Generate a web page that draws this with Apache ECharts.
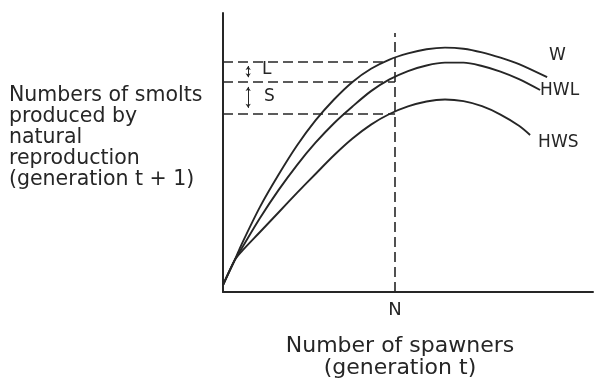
<!DOCTYPE html>
<html>
<head>
<meta charset="utf-8">
<script src="https://cdn.jsdelivr.net/npm/echarts@6/dist/echarts.min.js"></script>
<style>
  html, body { margin: 0; padding: 0; background: #fff; }
  #chart { width: 595px; height: 380px; }
</style>
</head>
<body>
<div id="chart"></div>
<script>
  // schematic curves, arbitrary units 0-100 on both axes
  const wX = [0, 3.2, 5, 10, 15, 20, 25, 30, 35, 40, 45, 50, 55, 60, 65, 70, 75, 80, 87.6];
  const wY = [2.5, 11.5, 17, 30.5, 42, 52.5, 61.5, 69, 75.3, 80, 83.3, 85.5, 87, 87.6, 87.2, 85.9, 84, 81.7, 77];
  const hwlX = [0, 3.2, 5, 10, 15, 20, 25, 30, 35, 40, 45, 50, 55, 60, 65, 70, 75, 80, 85.7];
  const hwlY = [2.5, 11.5, 15.5, 26.5, 36.5, 45.5, 53.5, 60.5, 66.5, 72, 76.2, 79.2, 81.2, 82.2, 82.2, 81, 79, 76.3, 72.4];
  const hwsX = [0, 3.2, 5, 10, 15, 20, 25, 30, 35, 40, 45, 50, 55, 60, 65, 70, 75, 80, 83];
  const hwsY = [2.5, 11.5, 14.5, 21.5, 28.5, 35.5, 42.3, 49, 55, 60, 63.8, 66.5, 68.3, 69, 68.4, 66.6, 63.6, 59.6, 56.3];

  const nValue = 46.5;       // position of N on the x axis
  const nTop = 92.8;          // top of the vertical dashed line
  const levels = [82.4, 75.3, 63.8];   // dashed levels
  const levelEnds = [43.2, 46.5, 46.5];

  const zip = (xs, ys) => xs.map((x, i) => [x, ys[i]]);
  const ink = '#262626';
  const font = 'DejaVu Sans';

  const chart = echarts.init(document.getElementById('chart'));

  const curve = (name, xs, ys, offset) => ({
    name: name,
    type: 'line',
    data: zip(xs, ys),
    smooth: 0.3,
    symbol: 'none',
    lineStyle: { color: ink, width: 1.9 },
    endLabel: {
      show: true,
      formatter: name,
      color: ink,
      fontFamily: font,
      fontSize: 17,
      offset: offset
    },
    silent: true
  });

  const dashed = { color: ink, width: 1.6, type: [10, 5] };

  const option = {
    animation: false,
    backgroundColor: '#fff',
    grid: { left: 223, top: 13, width: 370, height: 279 },
    xAxis: {
      type: 'value', min: 0, max: 100,
      axisLine: { show: true, lineStyle: { color: ink, width: 2 } },
      axisTick: { show: false },
      splitLine: { show: false },
      axisLabel: {
        customValues: [nValue],
        formatter: () => 'N',
        color: ink, fontFamily: font, fontSize: 18, margin: 9
      }
    },
    yAxis: {
      type: 'value', min: 0, max: 100,
      axisLine: { show: true, lineStyle: { color: ink, width: 2 } },
      axisTick: { show: false },
      axisLabel: { show: false },
      splitLine: { show: false }
    },
    series: [
      curve('W', wX, wY, [-6, -22]),
      curve('HWL', hwlX, hwlY, [-8, 1]),
      curve('HWS', hwsX, hwsY, [0, 8]),
      {
        type: 'line',
        data: [],
        silent: true,
        markLine: {
          silent: true,
          symbol: 'none',
          label: { show: false },
          lineStyle: dashed,
          data: [
            [{ coord: [nValue, 0] }, { coord: [nValue, nTop] }],
            ...levels.map((v, i) => [{ coord: [0, v] }, { coord: [levelEnds[i], v] }])
          ]
        }
      },
      {
        type: 'line',
        data: [],
        silent: true,
        markLine: {
          silent: true,
          symbol: ['arrow', 'arrow'],
          symbolSize: 4,
          label: { show: false },
          lineStyle: { color: ink, width: 1, type: 'solid' },
          data: [
            [{ coord: [6.8, 81] }, { coord: [6.8, 77] }],
            [{ coord: [6.8, 73.5] }, { coord: [6.8, 66] }]
          ]
        }
      }
    ],
    graphic: [
      {
        type: 'text', left: 9, top: 85,
        style: {
          text: 'Numbers of smolts\nproduced by\nnatural\nreproduction\n(generation t + 1)',
          fill: ink, font: '20.5px "DejaVu Sans"', lineHeight: 21
        }
      },
      {
        type: 'text', left: 262, top: 61,
        style: { text: 'L', fill: ink, font: '17px "DejaVu Sans"' }
      },
      {
        type: 'text', left: 264, top: 88,
        style: { text: 'S', fill: ink, font: '17px "DejaVu Sans"' }
      },
      {
        type: 'text', x: 400, y: 335,
        style: {
          text: 'Number of spawners\n(generation t)',
          fill: ink, font: '22px "DejaVu Sans"', lineHeight: 22,
          align: 'center'
        }
      }
    ]
  };

  chart.setOption(option);
</script>
</body>
</html>
